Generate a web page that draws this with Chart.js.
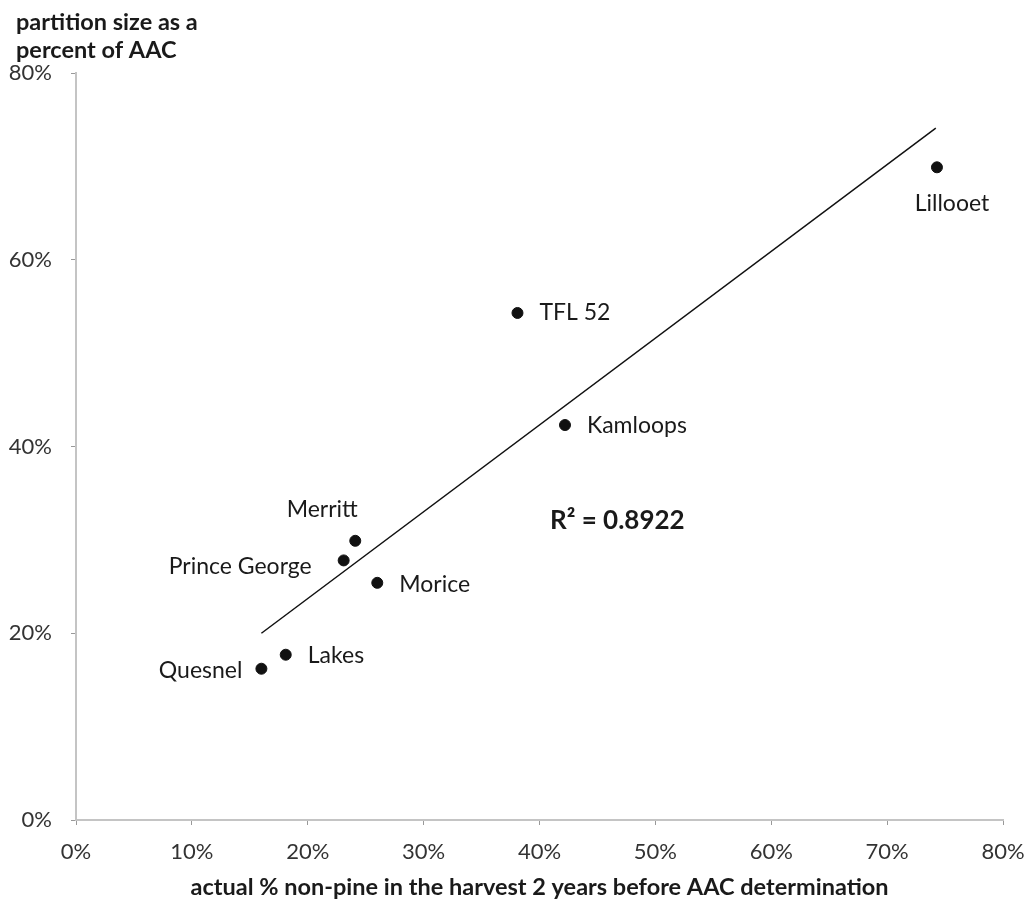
<!DOCTYPE html>
<html><head><meta charset="utf-8">
<script src="https://cdn.jsdelivr.net/npm/chart.js@4.4.1/dist/chart.umd.min.js"></script>
<style>html,body{margin:0;padding:0;background:#fff}#wrap{width:1030px;height:906px;position:relative}</style>
</head><body><div id="wrap"><canvas id="c" width="1030" height="906"></canvas></div>
<script>
// ---- data ----
const districts = ['Quesnel','Lakes','Prince George','Merritt','Morice','TFL 52','Kamloops','Lillooet'];
const nonPinePct = [16.0, 18.1, 23.1, 24.1, 26.0, 38.1, 42.2, 74.3];
const partitionPct = [16.2, 17.7, 27.8, 29.9, 25.4, 54.3, 42.3, 69.9];
const trendX = [16.0, 74.2];
const trendY = [20.0, 74.1];
const xTickValues = [0,10,20,30,40,50,60,70,80];
const yTickValues = [0,20,40,60,80];
const rSquaredLabel = 'R\u00B2 = 0.8922';
const rSquaredAt = [40.9, 32.1];
const yTitleLines = ['partition size as a', 'percent of AAC'];
const xTitle = 'actual % non-pine in the harvest 2 years before AAC determination';

// ---- label placement (style) ----
const FONT = 'Lato, "Open Sans", sans-serif';
const labelPlace = {
  'Quesnel': {dx: -19, dy: 2, align: 'right'},
  'Lakes': {dx: 22, dy: 1, align: 'left'},
  'Prince George': {dx: -32, dy: 6, align: 'right'},
  'Merritt': {dx: -33, dy: -31, align: 'center'},
  'Morice': {dx: 22, dy: 2, align: 'left'},
  'TFL 52': {dx: 22, dy: 0, align: 'left'},
  'Kamloops': {dx: 22, dy: 1, align: 'left'},
  'Lillooet': {dx: 15, dy: 36, align: 'center'}
};

const points = districts.map((d, i) => ({x: nonPinePct[i], y: partitionPct[i]}));
const trend = trendX.map((x, i) => ({x: x, y: trendY[i]}));

const textPlugin = {
  id: 'texts',
  afterDatasetsDraw(chart) {
    const ctx = chart.ctx, xs = chart.scales.x, ys = chart.scales.y;
    ctx.save();
    ctx.fillStyle = '#1a1a1a';
    ctx.textBaseline = 'middle';
    ctx.font = '23px ' + FONT;
    districts.forEach((d, i) => {
      const p = labelPlace[d];
      ctx.textAlign = p.align;
      ctx.fillText(d, xs.getPixelForValue(nonPinePct[i]) + p.dx, ys.getPixelForValue(partitionPct[i]) + p.dy);
    });
    ctx.font = 'bold 26px ' + FONT;
    ctx.textAlign = 'left';
    ctx.fillText(rSquaredLabel, xs.getPixelForValue(rSquaredAt[0]), ys.getPixelForValue(rSquaredAt[1]));
    ctx.font = 'bold 23.5px ' + FONT;
    ctx.fillText(yTitleLines[0], 16, 22);
    ctx.fillText(yTitleLines[1], 16, 50);
    ctx.restore();
  }
};

new Chart(document.getElementById('c'), {
  type: 'scatter',
  data: {
    datasets: [
      {label: 'districts', data: points, backgroundColor: '#111', borderColor: '#111', pointRadius: 5.5, pointHoverRadius: 5.5},
      {label: 'trend', type: 'line', data: trend, borderColor: '#111', borderWidth: 1.5, pointRadius: 0, fill: false, tension: 0}
    ]
  },
  options: {
    responsive: false,
    animation: false,
    layout: {padding: {top: 73, right: 27, left: 0, bottom: 0}},
    plugins: {legend: {display: false}, tooltip: {enabled: false}, title: {display: false}},
    scales: {
      x: {
        type: 'linear', min: 0, max: 80,
        afterBuildTicks: s => { s.ticks = xTickValues.map(v => ({value: v})); },
        afterFit: s => { s.height = 86; s.paddingRight = 0; s.paddingLeft = 0; },
        ticks: {callback: v => v + '%', color: '#333', font: {family: FONT, size: 22}, padding: 14, maxRotation: 0},
        grid: {drawOnChartArea: false, drawTicks: true, tickLength: 5, color: '#999'},
        border: {color: '#c4c4c4', width: 2},
        title: {display: true, text: xTitle, color: '#1a1a1a', font: {family: FONT, size: 23.5, weight: 'bold'}, padding: {top: 0, bottom: 4}}
      },
      y: {
        type: 'linear', min: 0, max: 80,
        afterBuildTicks: s => { s.ticks = yTickValues.map(v => ({value: v})); },
        afterFit: s => { s.width = 76; },
        ticks: {callback: v => v + '%', color: '#333', font: {family: FONT, size: 22}, padding: 19},
        grid: {drawOnChartArea: false, drawTicks: true, tickLength: 5, color: '#999'},
        border: {color: '#c4c4c4', width: 2}
      }
    }
  },
  plugins: [textPlugin]
});
</script>
</body></html>
